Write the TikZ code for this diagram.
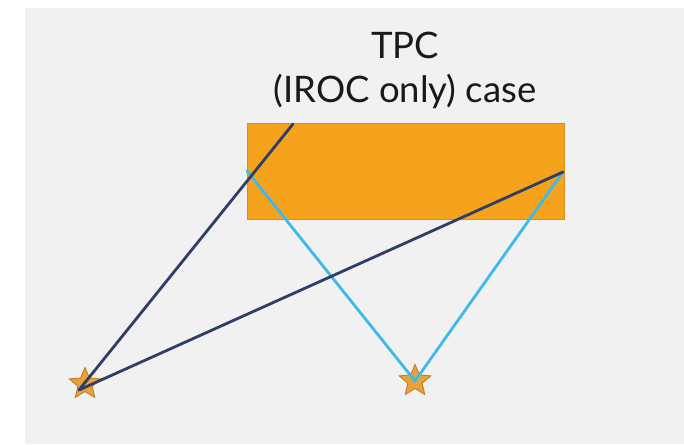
\documentclass[tikz,border=0pt]{standalone}
\usepackage{fontspec}
\setmainfont{Lato}
\usetikzlibrary{shapes.geometric}
\definecolor{panel}{HTML}{F1F1F1}
\definecolor{tpcfill}{HTML}{F5A31D}
\definecolor{tpcedge}{HTML}{D9901E}
\definecolor{track}{HTML}{2F3D68}
\definecolor{laser}{HTML}{3DBAEA}
\definecolor{starfill}{HTML}{E9A23A}
\definecolor{staredge}{HTML}{C27C22}

\begin{document}
\begin{tikzpicture}[x=1pt,y=-1pt,
    title/.style={font=\fontsize{36.5}{44}\selectfont, text=black!90, anchor=base},
    source/.style={star, star points=5, star point ratio=2.2, minimum size=33pt,
      inner sep=0pt, fill=starfill, draw=staredge, line width=0.9pt},
    ray/.style={line width=2.8pt, line cap=round}]
  % page and grey panel
  \useasboundingbox (0,0) rectangle (684,444);
  \fill[panel] (25,8) rectangle (684,444);

  % titles
  \node[title] (head) at (405,58) {TPC};
  \node[title] (sub) at (405,102) {(IROC only) case};

  % the chamber
  \node[draw=tpcedge, fill=tpcfill, line width=1.2pt, minimum width=317pt,
    minimum height=96pt, inner sep=0pt, anchor=north west] (tpc) at (247,123) {};

  % entry points on the chamber
  \coordinate (top) at (293,124);
  \coordinate (left) at (247,171);
  \coordinate (right) at (563,172);

  % the two sources
  \node[source] (s1) at (85,384) {};
  \node[source] (s2) at (415,381) {};
  \coordinate (s1foot) at (79,390);

  % rays
  \draw[ray, laser] (left) -- (s2.center) -- (right);
  \draw[ray, track] (s1foot) -- (top);
  \draw[ray, track] (s1foot) -- (right);
\end{tikzpicture}
\end{document}
